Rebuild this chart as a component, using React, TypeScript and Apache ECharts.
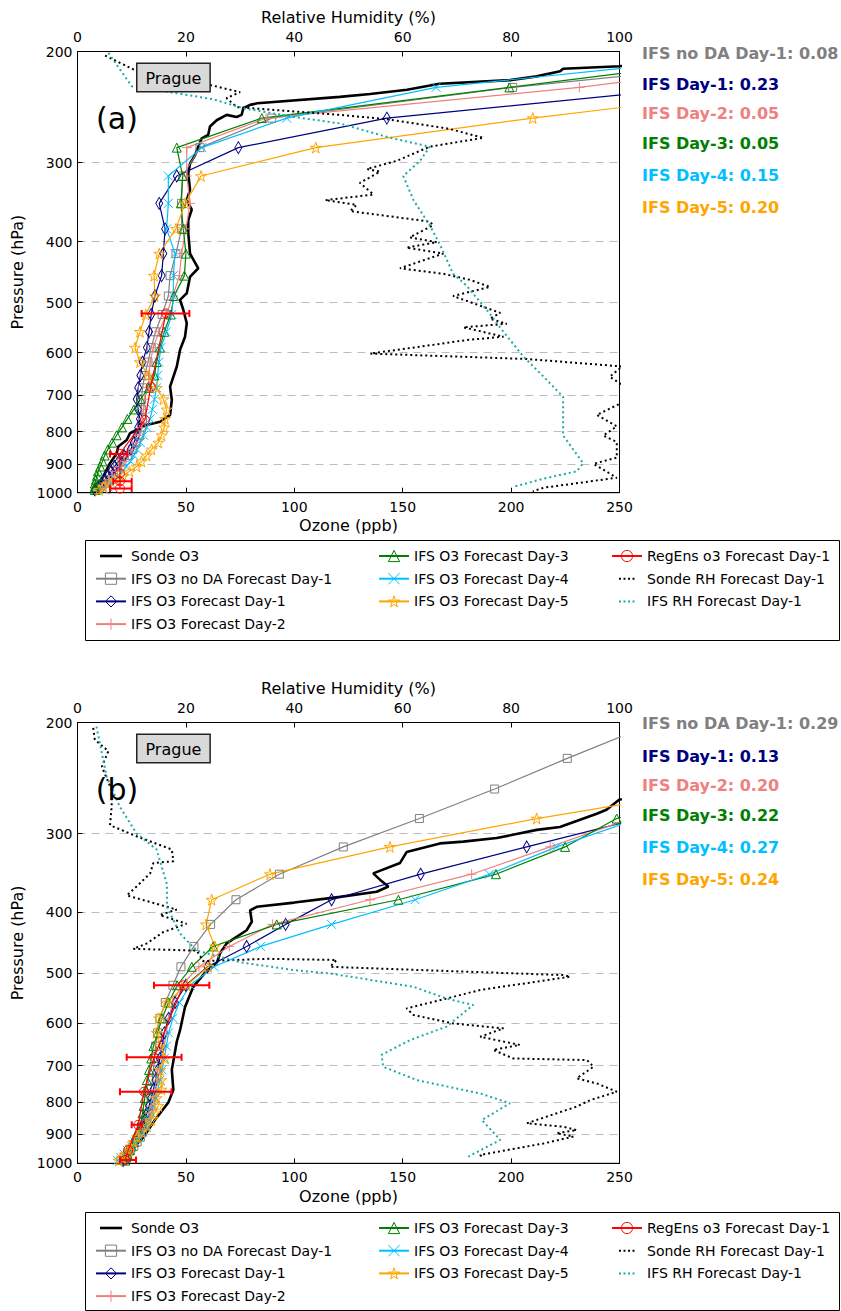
import React, { useEffect, useRef } from "react";
import * as echarts from "echarts";

const F = "'DejaVu Sans', sans-serif";

// ---- axes ----
const pressureTicks = [200, 300, 400, 500, 600, 700, 800, 900, 1000];
const ozoneMin = 0, ozoneMax = 250, ozoneStep = 50;
const rhMin = 0, rhMax = 100, rhStep = 20;

// ---- IFS model levels (hPa) ----
const ifsLevels = [203, 228, 255, 284, 315, 348, 382, 418, 453, 488, 522, 556, 589, 621, 652, 682, 711, 738, 764, 788, 811, 833, 854, 873, 892, 909, 925, 940, 954, 967, 979, 990];

// ---- Panel (a) ----
const sondeO3A = [[285,205],[250,211],[224,213],[222.6,215],[211.8,219],[199.5,222],[167,225],[152,230],[135,233.5],[121,236],[83,241.6],[79.6,243],[76.5,246],[75.7,252],[73.4,254],[68.8,252],[64.2,257],[61.1,263],[60.3,271],[57.3,274.5],[55.7,283],[54.2,292],[51.9,301],[51.1,312],[51.9,331],[50.4,344],[52.7,356],[51.1,370],[51.1,388],[51.9,418],[55.7,441],[51.9,455],[50.4,483],[49.6,486],[47.3,495],[48.8,513],[50.4,539],[49.6,566],[47.3,594],[45.8,631],[42.7,679],[43.5,713],[42.7,753],[38.1,772],[31.9,781],[24.2,805],[22.7,825],[18.8,845],[18.1,866],[15,898],[12,940],[9,990]];
const noDaA = [344, 200.7, 89.6, 56.5, 48.5, 48, 48, 45.4, 42.7, 41.9, 39, 36, 34, 32.5, 31, 30, 29.5, 29.5, 30, 29.5, 28.5, 27, 25.5, 23, 20.5, 18.5, 16.5, 15, 13.5, 12, 10.5, 9];
const day1A = [450, 285, 142.7, 74.2, 45.8, 37.7, 40.4, 39.6, 38.8, 35.7, 34, 33, 32, 30, 29, 28, 27.3, 28, 28.8, 28, 27.3, 26, 24.5, 21.5, 19, 17, 15.5, 14, 12.5, 11, 9.5, 8];
const day2A = [347, 231.5, 87, 50.4, 50.4, 51.9, 50, 48, 47, 44, 41, 37.5, 35, 33.5, 33, 32.5, 31, 30.5, 30, 29.5, 28.5, 27, 25.5, 23.5, 21.5, 19.5, 17.5, 16, 14.5, 13, 11.5, 10];
const day3A = [316, 199.2, 85, 45.8, 48.5, 47.7, 48.8, 50, 49.3, 44.5, 43, 40, 38, 36.5, 35.5, 33, 29, 26, 23, 20.5, 18, 16, 14, 12.5, 11.5, 10.5, 9.5, 9, 8.5, 8, 8, 8];
const day4A = [308, 165.4, 96.5, 57.3, 41.9, 41.9, 41.1, 45, 44.2, 44.2, 43.5, 41, 38.5, 37.5, 37, 36.5, 35.5, 34.5, 33.5, 32, 30.5, 29, 27.5, 26, 24.5, 22.5, 20.5, 19, 17, 15.5, 14, 12.5];
const day5A = [500, 328, 210, 109.9, 57, 49.6, 45.4, 37.7, 35.3, 35.7, 31.5, 28.8, 26.5, 28.8, 32.7, 36.5, 39.6, 41.1, 40.4, 40, 38.8, 37.3, 34.2, 31.9, 29.5, 27.3, 24, 21, 17.5, 14.5, 12, 10];
const regEnsA = [[40.8,520],[33.8,679],[31.1,767],[19.5,868],[19.6,932],[19.6,959],[19.6,985]];
const regEnsErrA = [[520,29.6,51.6],[868,15,23],[959,16.5,25],[985,15,25]];
const sondeRhA = [[5.1,203],[12,217],[24.5,226],[30,232],[27.5,237],[29.4,245],[48.4,252],[57,256],[68.4,265],[74.9,274],[65,283],[58.9,298],[53.4,307],[55.8,310],[52.1,323],[54.6,337],[45.7,344],[51.5,350],[50.3,358],[65,372],[65.6,377],[61.3,394],[66.3,401],[60.7,409],[67.5,418],[59.5,441],[67.5,450],[72.4,460],[76.1,472],[69.3,488],[78,519],[76.1,530],[79.2,540],[71.2,547],[78.6,566],[71.8,573],[62.6,588],[54,602],[82.9,614],[100.5,631],[98.2,655],[100.5,675],[100.5,720],[95.8,753],[99.5,785],[97,812],[99.5,831],[99.5,880],[95.2,900],[99.5,947],[86,982],[84,995]];
const ifsRhA = [[5.7,201],[10,227],[17.1,232],[25,238],[30.6,246],[40,254],[48.4,260],[57.7,274],[65,283],[63.2,298],[60.1,315],[62,344],[65,377],[66.9,405],[69.3,450],[71.8,470],[73,484],[75.5,513],[78,548],[82.3,609],[86,655],[89.6,705],[89.6,750],[89.6,812],[93.3,898],[92.1,925],[86,950],[80.4,979]];
const scoresA = ["0.08", "0.23", "0.05", "0.05", "0.15", "0.20"];

// ---- Panel (b) ----
const sondeO3B = [[280,258],[250,265],[244,275],[239.5,279],[222.5,293],[211.8,296],[193.4,305],[177.9,309],[167.2,311],[151.8,321],[148.8,334],[136.4,347],[139.5,355],[143.4,364],[138,371],[121.1,378],[100,386],[82.7,392],[79.6,397],[80.4,414],[78,427],[68.8,448],[65.7,465],[64.2,482],[59.6,495],[53.4,525],[49.6,565],[47.3,615],[45.8,641],[43.5,711],[44.2,765],[41.9,801],[35.7,854],[30.4,909],[24.2,958],[21.1,975]];
const noDaB = [262, 225.9, 192.4, 157.7, 122.6, 93.1, 73.1, 61.4, 53.7, 47.7, 44, 40.5, 38, 37, 36, 35.5, 35, 34.5, 34, 34, 33.5, 33, 32, 31, 30, 29, 27.5, 26, 24.5, 23, 21.5, 20];
const day1B = [420, 370, 312, 259, 207.2, 158.3, 117.2, 96, 78, 60, 50, 45, 42, 40, 39, 38, 37, 36, 35, 34, 33, 32, 31, 30, 28.5, 27, 26, 25, 24, 23, 22, 21];
const day2B = [380, 330, 295, 255, 218, 181.8, 134.9, 90, 70, 56, 48, 44, 42, 41, 40, 39, 38, 37, 36, 35, 34, 33, 31.5, 30, 29, 28, 27, 26, 25, 24, 23, 22];
const day3B = [420, 360, 305, 248.7, 224.9, 193, 148, 91.9, 62.6, 52.7, 46, 42, 39, 37, 35, 34, 33, 32, 31.5, 31, 30.5, 30, 29.5, 29, 28, 27, 26, 25, 24, 23, 22.5, 22];
const day4B = [400, 340, 300, 258.7, 221, 190, 155.7, 117.2, 84.5, 63, 52, 47, 44, 42, 41, 40, 39, 38, 37, 36, 35, 34, 33, 31.5, 30, 28.5, 26.5, 25, 23, 21.5, 20, 18.5];
const day5B = [420, 380, 294.6, 211.8, 144.1, 88.8, 61.9, 59.3, 63.4, 60.3, 50.4, 41, 37.5, 36.5, 38, 40.4, 38.1, 38.5, 38.8, 36.5, 37.3, 35.5, 34, 32, 29.5, 27.5, 25.8, 24.5, 23.5, 22, 20.5, 19];
const regEnsB = [[48.8,522],[35.3,679],[30.7,770],[28,869],[23.4,953],[21.9,988]];
const regEnsErrB = [[522,35.3,60.8],[679,22.7,48],[770,19.6,43.4],[869,25,29.6],[988,19.6,27]];
const sondeRhB = [[2.9,204],[3.2,213],[5.7,222],[4.5,235],[6.3,256],[6.3,272],[6,291],[10.9,303],[17.4,318],[17.7,332],[14,334],[13.4,347],[10.9,364],[9.1,376],[18.3,396],[15.2,404],[20.1,417],[15.8,430],[12.8,448],[10.3,457],[22,460],[23.2,478],[35,474],[47.8,476],[46.6,488],[55.2,491],[89.6,503],[90.9,506],[74.3,531],[68.1,548],[60.7,568],[62,582],[69.3,600],[78.6,611],[74.3,630],[81.6,649],[76.7,661],[80.4,682],[94,686],[95.2,703],[92.1,733],[95.8,747],[99.5,770],[94.6,794],[92.1,813],[82.9,864],[89.6,875],[92.1,886],[88.4,896],[91.5,907],[86,930],[74.3,970],[74.9,982]];
const ifsRhB = [[3.5,203],[4.5,224],[5.4,244],[7.8,272],[10.9,300],[14.6,318],[16.5,361],[16.5,392],[18.9,432],[22,460],[30,480],[40,494],[46.6,500],[62,525],[68.1,548],[73,561],[68.1,607],[61.3,638],[56.1,673],[56.4,703],[62.6,738],[74.3,775],[79.8,803],[74.6,854],[78,918],[72.1,976]];
const scoresB = ["0.29", "0.13", "0.20", "0.22", "0.27", "0.24"];

// ---- names / styles ----
const N = {
  sonde: "Sonde O3",
  noDa: "IFS O3 no DA Forecast Day-1",
  d1: "IFS O3 Forecast Day-1",
  d2: "IFS O3 Forecast Day-2",
  d3: "IFS O3 Forecast Day-3",
  d4: "IFS O3 Forecast Day-4",
  d5: "IFS O3 Forecast Day-5",
  reg: "RegEns o3 Forecast Day-1",
  srh: "Sonde RH Forecast Day-1",
  irh: "IFS RH Forecast Day-1",
};
const scoreLabels = ["IFS no DA Day-1", "IFS Day-1", "IFS Day-2", "IFS Day-3", "IFS Day-4", "IFS Day-5"];
const scoreColors = ["#808080", "#000080", "#F08080", "#008000", "#00BFFF", "#FFA500"];
const teal = "#1fa8a8";

const SYM_DIAMOND = "path://M5,0L10,10L5,20L0,10Z";
const SYM_PLUS = "path://M5,0L5,10M0,5L10,5";
const SYM_X = "path://M0,0L10,10M10,0L0,10";
const SYM_STAR = "path://M50,2L61,37L98,37L68,58L79,94L50,72L21,94L32,58L2,37L39,37Z";
const ICON_SOLID = "path://M0,0M4,5.7L26,5.7L26,8.3L4,8.3ZM30,14";
const ICON_DOTS = "path://M0,0M7,6L9,6L9,8L7,8ZM11.5,6L13.5,6L13.5,8L11.5,8ZM16,6L18,6L18,8L16,8ZM20.5,6L22.5,6L22.5,8L20.5,8ZM30,14";

const lg = (p: number) => Math.log10(p);

function line(name: string, pts: number[][], xi: number, yi: number, color: string, symbol: string, size: any, width: number, type: any = "solid", z = 3) {
  return {
    type: "line",
    name,
    xAxisIndex: xi,
    yAxisIndex: yi,
    data: pts.map(([v, p]) => [v, lg(p)]),
    symbol,
    symbolSize: size,
    showSymbol: symbol !== "none",
    color,
    lineStyle: { color, width, type },
    itemStyle: { color: "transparent", borderColor: color, borderWidth: 1 },
    emphasis: { disabled: true },
    silent: true,
    clip: true,
    z,
  };
}

function levelPts(vals: number[]) {
  return vals.map((v, i) => [v, ifsLevels[i]]);
}

function errSeries(errs: number[][], xi: number, yi: number) {
  return {
    type: "custom",
    xAxisIndex: xi,
    yAxisIndex: yi,
    silent: true,
    clip: true,
    z: 4,
    encode: { x: [0, 1], y: 2 },
    data: errs.map(([p, lo, hi]) => [lo, hi, lg(p)]),
    renderItem: (params: any, api: any) => {
      const y = api.value(2);
      const a = api.coord([api.value(0), y]);
      const b = api.coord([api.value(1), y]);
      const s = { stroke: "#ff0000", lineWidth: 2 };
      return {
        type: "group",
        children: [
          { type: "line", shape: { x1: a[0], y1: a[1], x2: b[0], y2: b[1] }, style: s },
          { type: "line", shape: { x1: a[0], y1: a[1] - 3.5, x2: a[0], y2: a[1] + 3.5 }, style: s },
          { type: "line", shape: { x1: b[0], y1: b[1] - 3.5, x2: b[0], y2: b[1] + 3.5 }, style: s },
        ],
      };
    },
  };
}

function panelSeries(d: any, xo: number, xr: number, yi: number) {
  return [
    line(N.sonde, d.sonde, xo, yi, "#000000", "none", 0, 2.6, "solid", 2),
    line(N.noDa, levelPts(d.noDa), xo, yi, "#808080", "rect", 8, 1.2),
    line(N.d1, levelPts(d.d1), xo, yi, "#000080", SYM_DIAMOND, [7, 12], 1.2),
    line(N.d2, levelPts(d.d2), xo, yi, "#F08080", SYM_PLUS, 10, 1.2),
    line(N.d3, levelPts(d.d3), xo, yi, "#008000", "triangle", 9, 1.2),
    line(N.d4, levelPts(d.d4), xo, yi, "#00BFFF", SYM_X, 9, 1.2),
    line(N.d5, levelPts(d.d5), xo, yi, "#FFA500", SYM_STAR, 11, 1.2),
    line(N.reg, d.reg, xo, yi, "#FF0000", "circle", 9, 1.2, "solid", 4),
    errSeries(d.err, xo, yi),
    line(N.srh, d.srh, xr, yi, "#000000", "none", 0, 2, [2, 3], 5),
    line(N.irh, d.irh, xr, yi, teal, "none", 0, 2, [2, 3], 5),
  ];
}

const axisTxt = { fontSize: 14, color: "#000", fontFamily: F };
const nameTxt = { fontSize: 16, color: "#000", fontFamily: F };

function xOzone(g: number) {
  return {
    type: "value", gridIndex: g, position: "bottom", min: ozoneMin, max: ozoneMax, interval: ozoneStep,
    name: "Ozone (ppb)", nameLocation: "middle", nameGap: 25, nameTextStyle: nameTxt,
    axisLine: { show: true, onZero: false, lineStyle: { color: "#000", width: 1 } },
    axisTick: { show: true, inside: true, length: 5, lineStyle: { color: "#000" } },
    axisLabel: { ...axisTxt, margin: 7 },
    splitLine: { show: false },
  };
}
function xRh(g: number) {
  return {
    type: "value", gridIndex: g, position: "top", min: rhMin, max: rhMax, interval: rhStep,
    name: "Relative Humidity (%)", nameLocation: "middle", nameGap: 26, nameTextStyle: nameTxt,
    axisLine: { show: true, onZero: false, lineStyle: { color: "#000", width: 1 } },
    axisTick: { show: true, inside: true, length: 5, lineStyle: { color: "#000" } },
    axisLabel: { ...axisTxt, margin: 8 },
    splitLine: { show: false },
  };
}
function yP(g: number) {
  const cv = pressureTicks.map(lg);
  return {
    type: "value", gridIndex: g, min: lg(pressureTicks[0]), max: lg(pressureTicks[pressureTicks.length - 1]), inverse: true,
    name: "Pressure (hPa)", nameLocation: "middle", nameGap: 47, nameRotate: 90, nameTextStyle: nameTxt,
    axisLine: { show: true, onZero: false, lineStyle: { color: "#000", width: 1 } },
    axisTick: { show: true, inside: true, length: 5, customValues: cv, lineStyle: { color: "#000" } },
    axisLabel: { ...axisTxt, margin: 5, customValues: cv, formatter: (v: number) => String(Math.round(Math.pow(10, v))) },
    splitLine: { show: true, lineStyle: { color: "#bdbdbd", width: 1, type: [8, 6] } },
  };
}

const plainIcons: Record<string, { icon: string; color: string }> = {
  [N.sonde]: { icon: ICON_SOLID, color: "#000000" },
  [N.srh]: { icon: ICON_DOTS, color: "#000000" },
  [N.irh]: { icon: ICON_DOTS, color: teal },
};

function legendCol(left: number, top: number, names: string[]) {
  return {
    orient: "vertical", left, top, padding: 0, itemWidth: 30, itemHeight: 14, itemGap: 8.7,
    selectedMode: false,
    itemStyle: { borderWidth: 1 },
    data: names.map((n) =>
      plainIcons[n]
        ? { name: n, icon: plainIcons[n].icon, itemStyle: { color: plainIcons[n].color, borderWidth: 0 } }
        : { name: n }
    ),
    textStyle: { fontSize: 14, color: "#000", fontFamily: F },
  };
}

function panelGraphics(top: number, label: string, scores: string[], scoreY: number[], legendTop: number, legendH: number) {
  const g: any[] = [
    { type: "rect", z: 1, shape: { x: 85.5, y: legendTop + 0.5, width: 754, height: legendH }, style: { fill: "none", stroke: "#000", lineWidth: 1 } },
    { type: "text", z: 50, x: 137.5, y: top + 12.5, style: { text: "Prague", fontSize: 16, fontFamily: F, fill: "#000", backgroundColor: "#d9d9d9", borderColor: "#222", borderWidth: 1.5, padding: [5, 8, 4, 8], lineHeight: 18 } },
    { type: "text", z: 50, x: 117, y: top + 66.5, style: { text: label, fontSize: 30, fontFamily: F, fill: "#000", align: "center", verticalAlign: "middle" } },
  ];
  scores.forEach((s, i) => {
    g.push({ type: "text", z: 50, x: 642, y: scoreY[i], style: { text: `${scoreLabels[i]}: ${s}`, fontSize: 16, fontWeight: "bold", fontFamily: F, fill: scoreColors[i], verticalAlign: "middle" } });
  });
  return g;
}

export default function App() {
  const ref = useRef<HTMLDivElement>(null);
  useEffect(() => {
    if (!ref.current) return;
    const chart = echarts.init(ref.current, undefined, { renderer: "svg" });
    const topA = 51.5, topB = 722.5;
    const dataA = { sonde: sondeO3A, noDa: noDaA, d1: day1A, d2: day2A, d3: day3A, d4: day4A, d5: day5A, reg: regEnsA, err: regEnsErrA, srh: sondeRhA, irh: ifsRhA };
    const dataB = { sonde: sondeO3B, noDa: noDaB, d1: day1B, d2: day2B, d3: day3B, d4: day4B, d5: day5B, reg: regEnsB, err: regEnsErrB, srh: sondeRhB, irh: ifsRhB };
    const col1 = [N.sonde, N.noDa, N.d1, N.d2];
    const col2 = [N.d3, N.d4, N.d5];
    const col3 = [N.reg, N.srh, N.irh];
    chart.setOption({
      animation: false,
      backgroundColor: "#fff",
      textStyle: { fontFamily: F },
      grid: [
        { left: 77.5, top: topA, width: 542, height: 441.2, show: true, borderColor: "#000", borderWidth: 1, backgroundColor: "transparent", containLabel: false },
        { left: 77.5, top: topB, width: 542, height: 440.8, show: true, borderColor: "#000", borderWidth: 1, backgroundColor: "transparent", containLabel: false },
      ],
      xAxis: [xOzone(0), xRh(0), xOzone(1), xRh(1)],
      yAxis: [yP(0), yP(1)],
      legend: [
        legendCol(95, 549, col1), legendCol(378, 549, col2), legendCol(611, 549, col3),
        legendCol(95, 1221, col1), legendCol(378, 1221, col2), legendCol(611, 1221, col3),
      ],
      series: [...panelSeries(dataA, 0, 1, 0), ...panelSeries(dataB, 2, 3, 1)],
      graphic: [
        ...panelGraphics(topA, "(a)", scoresA, [53, 84, 113, 143, 175, 207], 540, 100),
        ...panelGraphics(topB, "(b)", scoresB, [723, 756, 785, 815, 847, 879], 1212, 98),
      ],
    });
    return () => chart.dispose();
  }, []);
  return <div ref={ref} style={{ position: "absolute", left: 0, top: 0, width: 841, height: 1311 }} />;
}
